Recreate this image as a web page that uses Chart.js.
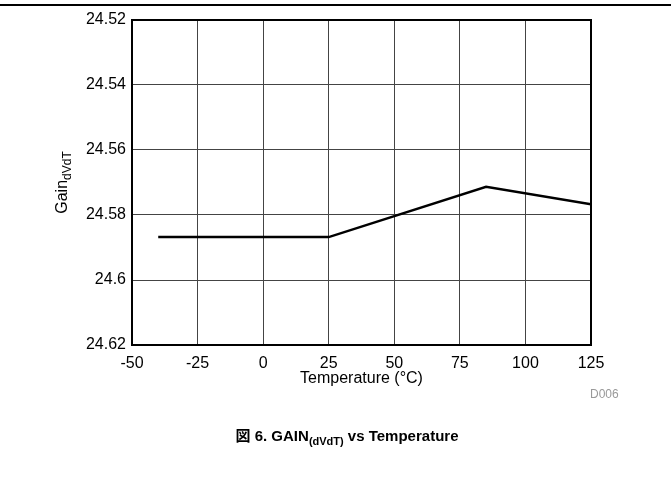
<!DOCTYPE html>
<html>
<head>
<meta charset="utf-8">
<script src="https://cdn.jsdelivr.net/npm/chart.js@4/dist/chart.umd.min.js"></script>
<style>
  body { margin: 0; background: #fff; }
  #wrap { position: relative; width: 671px; height: 479px; }
  #topline { position: absolute; left: 0; top: 4px; width: 671px; height: 2px; background: #000; }
  #caption { position: absolute; left: 0; width: 694px; top: 424px; text-align: center;
    font-family: "Liberation Sans", Arial, "Noto Sans CJK JP", sans-serif; font-weight: bold; font-size: 15px; }
  #caption sub { font-size: 11px; }
  #code { position: absolute; left: 590px; top: 387px; color: #999;
    font-family: "Liberation Sans", Arial, sans-serif; font-size: 12px; }
</style>
</head>
<body>
<div id="wrap">
  <canvas id="myChart" width="671" height="479"></canvas>
  <div id="topline"></div>
  <div id="code">D006</div>
  <div id="caption">図 6. GAIN<sub>(dVdT)</sub> vs Temperature</div>
</div>
<script>
// values
const temps = [-40, 25, 85, 125];
const gain = [24.5868, 24.5868, 24.5713, 24.5767];
const xTicks = [-50, -25, 0, 25, 50, 75, 100, 125];
const yTicks = [24.52, 24.54, 24.56, 24.58, 24.6, 24.62];

let ctx = document.getElementById('myChart').getContext('2d');
const font = "'Liberation Sans', Arial, sans-serif";

// frame round the plot and the y title with subscript
const framePlugin = {
    id: 'frame',
    afterDraw(chart) {
        const a = chart.chartArea;
        const c = chart.ctx;
        c.save();
        c.strokeStyle = '#000';
        c.lineWidth = 2;
        c.strokeRect(a.left, a.top, a.right - a.left, a.bottom - a.top);
        c.translate(67, (a.top + a.bottom) / 2);
        c.rotate(-Math.PI / 2);
        c.fillStyle = '#000';
        c.textBaseline = 'alphabetic';
        c.font = '16px ' + font;
        const w1 = c.measureText('Gain').width;
        c.font = '12px ' + font;
        const w2 = c.measureText('dVdT').width;
        const x0 = -(w1 + w2) / 2;
        c.font = '16px ' + font;
        c.fillText('Gain', x0, 0);
        c.font = '12px ' + font;
        c.fillText('dVdT', x0 + w1, 4);
        c.restore();
    }
};

let myChart = new Chart(ctx, {
    type: 'line',
    data: {
        datasets: [{
            data: temps.map((t, i) => ({ x: t, y: gain[i] })),
            borderColor: '#000',
            borderWidth: 2.5,
            pointRadius: 0,
            tension: 0
        }]
    },
    options: {
        responsive: false,
        animation: false,
        layout: { padding: { top: 20, right: 80, bottom: 91, left: 0 } },
        plugins: { legend: { display: false }, tooltip: { enabled: false } },
        scales: {
            x: {
                type: 'linear',
                min: -50,
                max: 125,
                afterBuildTicks: s => { s.ticks = xTicks.map(v => ({ value: v })); },
                afterFit: s => { s.height = 43; },
                ticks: { color: '#000', font: { family: font, size: 16 }, padding: 9, maxRotation: 0 },
                grid: { color: '#444', lineWidth: 1, drawTicks: false },
                border: { display: false },
                title: { display: true, text: 'Temperature (°C)', color: '#000',
                    font: { family: font, size: 16 }, padding: 0 }
            },
            y: {
                min: 24.52,
                max: 24.62,
                reverse: true,
                afterBuildTicks: s => { s.ticks = yTicks.map(v => ({ value: v })); },
                afterFit: s => { s.width = 132; },
                ticks: { color: '#000', font: { family: font, size: 16 }, padding: 6,
                    callback: v => String(v) },
                grid: { color: '#444', lineWidth: 1, drawTicks: false },
                border: { display: false }
            }
        }
    },
    plugins: [framePlugin]
});
</script>
</body>
</html>
